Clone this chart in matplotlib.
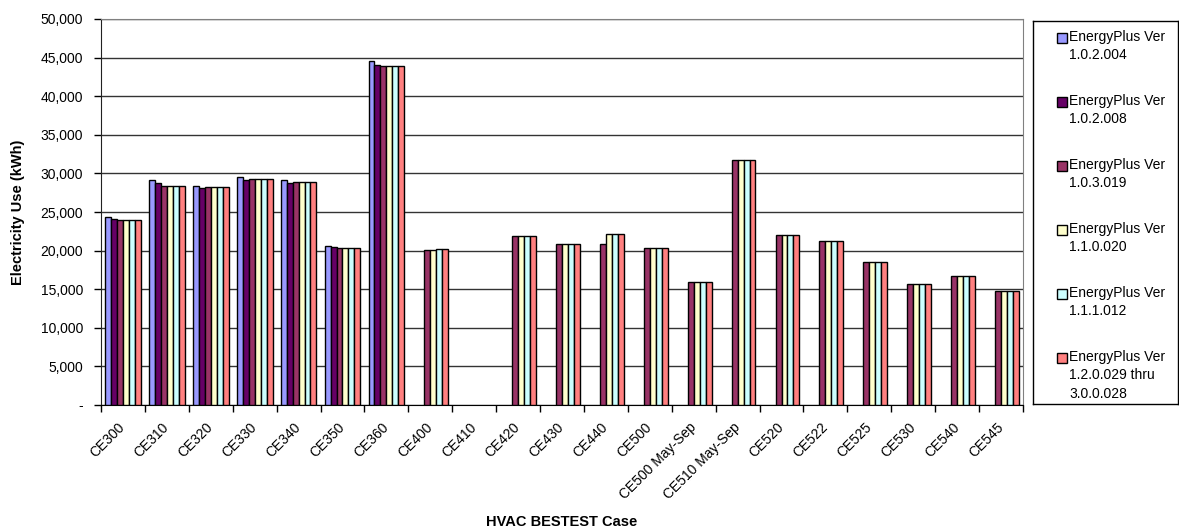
import numpy as np
import matplotlib
matplotlib.use("Agg")
import matplotlib.pyplot as plt
from matplotlib.patches import Rectangle
from matplotlib.ticker import FuncFormatter
from matplotlib.transforms import ScaledTranslation

plt.rcParams['font.family'] = ['Liberation Sans', 'DejaVu Sans']

nan = np.nan
cases = ["CE300", "CE310", "CE320", "CE330", "CE340", "CE350", "CE360",
         "CE400", "CE410", "CE420", "CE430", "CE440", "CE500",
         "CE500 May-Sep", "CE510 May-Sep", "CE520", "CE522", "CE525",
         "CE530", "CE540", "CE545"]

labels = ["EnergyPlus Ver\n1.0.2.004", "EnergyPlus Ver\n1.0.2.008",
          "EnergyPlus Ver\n1.0.3.019", "EnergyPlus Ver\n1.1.0.020",
          "EnergyPlus Ver\n1.1.1.012", "EnergyPlus Ver\n1.2.0.029 thru\n3.0.0.028"]

v_1_0_2_004 = [24330, 29200, 28420, 29480, 29110, 20630, 44520,
               nan, nan, nan, nan, nan, nan, nan, nan, nan, nan, nan, nan, nan, nan]
v_1_0_2_008 = [24030, 28770, 28120, 29180, 28810, 20410, 44100,
               nan, nan, nan, nan, nan, nan, nan, nan, nan, nan, nan, nan, nan, nan]
v_1_0_3_019 = [23900, 28420, 28250, 29300, 28940, 20320, 43900,
               20130, nan, 21850, 20900, 20900, 20390, 15950, 31720,
               21980, 21250, 18530, 15690, 16770, 14780]
v_1_1_0_020 = [23900, 28420, 28250, 29300, 28940, 20320, 43900,
               20130, nan, 21850, 20900, 22200, 20390, 15950, 31720,
               21980, 21250, 18530, 15690, 16770, 14780]
v_1_1_1_012 = [23900, 28420, 28250, 29300, 28940, 20320, 43900,
               20150, nan, 21850, 20900, 22200, 20390, 15950, 31720,
               21980, 21250, 18530, 15690, 16770, 14780]
v_1_2_0_029 = [23900, 28420, 28250, 29300, 28940, 20320, 43900,
               20250, nan, 21850, 20900, 22200, 20390, 15950, 31720,
               21980, 21250, 18530, 15690, 16770, 14780]

series = [v_1_0_2_004, v_1_0_2_008, v_1_0_3_019, v_1_1_0_020, v_1_1_1_012, v_1_2_0_029]
colors = ['#9999FF', '#660066', '#993366', '#FFFFCC', '#CCFFFF', '#FF8080']

fig = plt.figure(figsize=(11.79, 5.31), dpi=100)
W, H = 1179.0, 531.0
ax = fig.add_axes([101/W, 1-405/H, (1023-101)/W, (405-19)/H])

x = np.arange(len(cases))
bw = 0.1355
for i, s in enumerate(series):
    ax.bar(x + (i - 2.5)*bw, s, bw, color=colors[i], edgecolor='black',
           linewidth=1.0, zorder=3)

ax.set_xlim(-0.5, len(cases) - 0.5)
ax.set_ylim(0, 50000)
ax.set_yticks(np.arange(0, 50001, 5000))
ax.yaxis.set_major_formatter(FuncFormatter(lambda v, p: '-' if v == 0 else '{:,.0f}'.format(v)))
ax.yaxis.grid(True, color='#333333', linewidth=1.0, zorder=0)
ax.set_axisbelow(True)

ax.set_xticks(x)
ax.set_xticklabels(cases, rotation=45, ha='right', rotation_mode='anchor', fontsize=10)
ax.set_xticks(np.arange(-0.5, len(cases)), minor=True)
ax.tick_params(axis='x', which='major', length=0, pad=11)
ax.tick_params(axis='x', which='minor', length=5, width=1, direction='out')
ax.tick_params(axis='y', length=5, width=1, direction='out', labelsize=10, pad=8)
# nudge the rotated case labels a little left, like the original
shift = ScaledTranslation(-5/100, 0, fig.dpi_scale_trans)
for t in ax.get_xticklabels():
    t.set_transform(t.get_transform() + shift)

for side in ['top', 'right']:
    ax.spines[side].set_color('#808080')
ax.spines['left'].set_color('#222222')
ax.spines['bottom'].set_color('black')

fig.text(18/W, 1-212/H, 'Electricity Use (kWh)', rotation=90, ha='center', va='center',
         fontsize=10.5, fontweight='bold')
fig.text(562/W, 1-522/H, 'HVAC BESTEST Case', ha='center', va='center',
         fontsize=10.5, fontweight='bold')

# legend box drawn by hand so the swatch sits on the first line of text
lax = fig.add_axes([1033/W, 1-404/H, (1178-1033)/W, (404-21)/H])
lax.set_xlim(0, 145)
lax.set_ylim(383, 0)
lax.set_xticks([])
lax.set_yticks([])
for sp in lax.spines.values():
    sp.set_color('black')
    sp.set_linewidth(1.0)
for i, lab in enumerate(labels):
    yc = 16.5 + 64*i
    lax.add_patch(Rectangle((24, yc - 5), 10, 10, facecolor=colors[i],
                            edgecolor='black', linewidth=1.0))
    lax.text(36, yc - 7.5, lab, ha='left', va='top', fontsize=10, linespacing=1.4)

fig.savefig('out.png', dpi=100)
